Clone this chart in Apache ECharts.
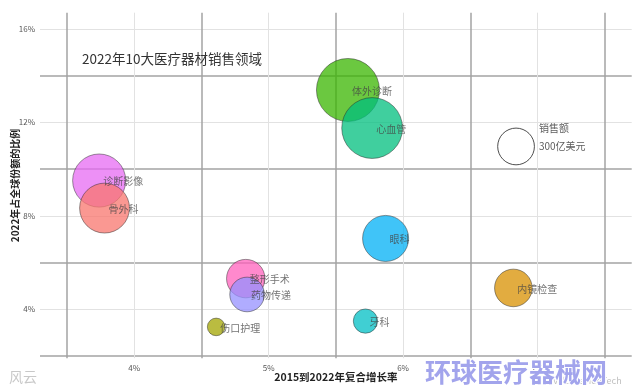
<!DOCTYPE html>
<html>
<head>
<meta charset="utf-8">
<script src="https://cdn.jsdelivr.net/npm/echarts@6/dist/echarts.min.js"></script>
<style>html,body{margin:0;padding:0;background:#fff}#c{width:640px;height:391px}</style>
</head>
<body>
<div id="c"></div>
<script>
// Data
const categories = ['体外诊断','心血管','诊断影像','骨外科','眼科','整形手术','药物传递','内镜检查','牙科','伤口护理'];
const growth = [5.59, 5.77, 3.74, 3.78, 5.87, 4.83, 4.84, 6.82, 5.72, 4.61];   // 2015-2022 CAGR, %
const share  = [13.39, 11.76, 9.51, 8.33, 7.03, 5.31, 4.63, 4.91, 3.49, 3.24]; // 2022 share, %
const sales  = [796, 740, 562, 498, 430, 320, 278, 310, 206, 193];              // 亿美元
const colors = ['#39B600','#00BF7D','#E76BF3','#F8766D','#00B0F6','#FF62BC','#9590FF','#D89000','#00BFC4','#A3A500'];
const legendPoint = [6.84, 10.97, 300];
const xLabelTicks = [4, 5, 6, 7];
const xMidTicks = [3.5, 4.5, 5.5, 6.5, 7.5];
const yLabelTicks = [4, 8, 12, 16];
const yMidTicks = [2, 6, 10, 14];

const sMin = Math.min(...sales), sMax = Math.max(...sales);
const rMin = 8.8, rMax = 31.5;
function sizeOf(s) {
  const t = Math.max(0, (s - sMin) / (sMax - sMin));
  return 2 * (rMin + (rMax - rMin) * Math.sqrt(t));
}

const font = '"Noto Sans CJK SC", "Noto Sans", sans-serif';
const chart = echarts.init(document.getElementById('c'));

const data = categories.map((n, i) => ({
  name: n,
  value: [growth[i], share[i], sales[i]],
  itemStyle: { color: colors[i] }
}));

const xBase = { type: 'value', min: 3.3, max: 7.7, axisLine: { show: false } };
const yBase = { type: 'value', min: 1.9, max: 16.7, axisLine: { show: false } };

chart.setOption({
  animation: false,
  title: {
    text: '2022年10大医疗器材销售领域',
    left: 77, top: 47,
    textStyle: { fontSize: 13.5, fontWeight: 'normal', color: '#333', fontFamily: font }
  },
  grid: { left: 40, right: 8.3, top: 12.7, bottom: 32.8, containLabel: false, outerBoundsMode: 'none' },
  xAxis: [
    Object.assign({}, xBase, {
      position: 'bottom',
      axisTick: { show: false, customValues: xLabelTicks },
      axisLabel: { customValues: xLabelTicks, formatter: v => v + '%', fontSize: 8, color: '#555', margin: 6, fontFamily: font },
      splitLine: { show: true, lineStyle: { color: '#e2e2e2', width: 1 } },
      name: '2015到2022年复合增长率', nameLocation: 'middle', nameGap: 14, nameMoveOverlap: false,
      nameTextStyle: { fontSize: 10.5, fontWeight: 'bold', color: '#222', fontFamily: font }
    }),
    Object.assign({}, xBase, {
      position: 'bottom',
      axisTick: { show: false, customValues: xMidTicks },
      axisLabel: { show: false, customValues: xMidTicks },
      splitLine: { show: true, lineStyle: { color: '#a3a3a3', width: 1.5 } }
    })
  ],
  yAxis: [
    Object.assign({}, yBase, {
      position: 'left',
      axisTick: { show: false, customValues: yLabelTicks },
      axisLabel: { customValues: yLabelTicks, formatter: v => v + '%', fontSize: 8, color: '#555', margin: 5, fontFamily: font },
      splitLine: { show: true, lineStyle: { color: '#e2e2e2', width: 1 } },
      name: '2022年占全球份额的比例', nameLocation: 'middle', nameGap: 20, nameMoveOverlap: false,
      nameTextStyle: { fontSize: 10, fontWeight: 'bold', color: '#222', fontFamily: font }
    }),
    Object.assign({}, yBase, {
      position: 'left',
      axisTick: { show: false, customValues: yMidTicks },
      axisLabel: { show: false, customValues: yMidTicks },
      splitLine: { show: true, lineStyle: { color: '#a3a3a3', width: 1.5 } }
    })
  ],
  series: [
    {
      type: 'scatter',
      xAxisIndex: 0, yAxisIndex: 0,
      data: data,
      symbolSize: v => sizeOf(v[2]),
      itemStyle: { opacity: 0.75, borderColor: 'rgba(40,40,40,0.8)', borderWidth: 0.8 },
      label: {
        show: true, position: 'inside', align: 'left', offset: [4, 1],
        formatter: p => p.name, fontSize: 10, color: '#444', fontFamily: font
      }
    },
    {
      type: 'scatter',
      xAxisIndex: 0, yAxisIndex: 0,
      data: [{ name: '300亿美元', value: legendPoint }],
      symbolSize: v => sizeOf(v[2]),
      itemStyle: { color: 'rgba(255,255,255,0)', borderColor: '#222', borderWidth: 1 },
      label: {
        show: true, position: 'right', distance: 4, offset: [0, -9],
        formatter: '销售额\n300亿美元', lineHeight: 18, fontSize: 10, color: '#333', fontFamily: font
      }
    }
  ],
  graphic: [
    { type: 'text', left: 9, top: 370, style: { text: '风云', fontSize: 14, fill: '#c8c8c8', fontFamily: font } },
    { type: 'text', left: 548, top: 376, z: 1, style: { text: 'EvaluateMedTech', fontSize: 9, fill: '#c0c0c0', fontFamily: font } },
    { type: 'text', left: 424, top: 358, z: 2, style: { text: '环球医疗器械网', fontSize: 26, fontWeight: 'bold', fill: '#a2a4ec', stroke: '#ffffff', lineWidth: 2, fontFamily: font } }
  ]
});
</script>
</body>
</html>
